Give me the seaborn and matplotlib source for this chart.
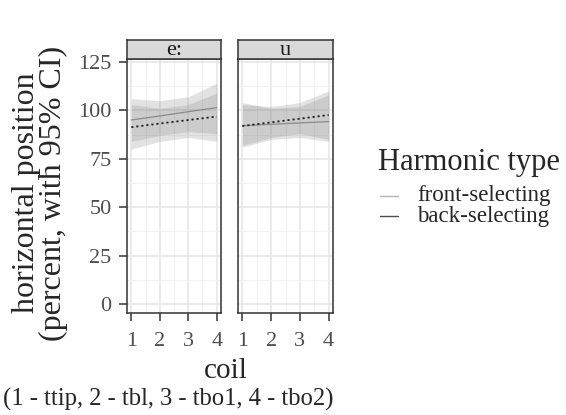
import matplotlib
matplotlib.use("Agg")
import matplotlib.pyplot as plt
import seaborn as sns
import pandas as pd
from matplotlib.lines import Line2D

# values
vowels = ["e:", "u"]
coil = [1, 2, 3, 4]

e_front_mean = [95.0, 97.1, 99.3, 101.4]
e_front_lo = [84, 87, 89, 88]
e_front_hi = [106, 105, 107, 114]
e_back_mean = [91.3, 93.2, 95.0, 96.8]
e_back_lo = [80, 84, 86, 84]
e_back_hi = [103, 101, 103, 109]

u_front_mean = [92.1, 92.8, 93.5, 94.2]
u_front_lo = [81, 85, 86, 84]
u_front_hi = [104, 101, 102, 108]
u_back_mean = [91.9, 93.8, 95.7, 97.6]
u_back_lo = [82, 86, 88, 85]
u_back_hi = [103, 102, 104, 110]

y_ticks = [0, 25, 50, 75, 100, 125]
harmonic_types = ["front-selecting", "back-selecting"]
legend_colors = ["#b3b3b3", "#4d4d4d"]

# build a long table
rows = []
series = {
    ("e:", "front-selecting"): (e_front_mean, e_front_lo, e_front_hi),
    ("e:", "back-selecting"): (e_back_mean, e_back_lo, e_back_hi),
    ("u", "front-selecting"): (u_front_mean, u_front_lo, u_front_hi),
    ("u", "back-selecting"): (u_back_mean, u_back_lo, u_back_hi),
}
for (v, h), (m, lo, hi) in series.items():
    for c, a, b, d in zip(coil, m, lo, hi):
        rows.append({"vowel": v, "type": h, "coil": c, "pos": a, "lo": b, "hi": d})
df = pd.DataFrame(rows)

sns.set_theme(style="white")
plt.rcParams["font.family"] = ["Liberation Serif", "DejaVu Serif"]

fig = plt.figure(figsize=(5.66, 4.15), dpi=100)

W, H = 566, 415
panel_x = [(127, 221), (238, 333)]
top, bottom = 59, 313
strip_top = 40

line_styles = {"front-selecting": dict(color="#8a8a8a", linestyle="-", linewidth=0.9),
               "back-selecting": dict(color="#222222", linestyle=(0, (1.2, 1.6)), linewidth=1.3)}

for i, v in enumerate(vowels):
    x0, x1 = panel_x[i]
    ax = fig.add_axes([x0 / W, 1 - bottom / H, (x1 - x0) / W, (bottom - top) / H])
    sub = df[df["vowel"] == v]
    for h in harmonic_types:
        s = sub[sub["type"] == h]
        ax.fill_between(s["coil"], s["lo"], s["hi"], color="#7f7f7f", alpha=0.22, linewidth=0, zorder=2)
    for h in harmonic_types:
        s = sub[sub["type"] == h]
        sns.lineplot(data=s, x="coil", y="pos", ax=ax, legend=False, zorder=3, **line_styles[h])

    ax.set_xlim(0.85, 4.15)
    ax.set_ylim(-4.6, 126.5)
    ax.set_xticks(coil)
    ax.set_xticks([1.5, 2.5, 3.5], minor=True)
    ax.set_yticks(y_ticks)
    ax.set_yticks([12.5, 37.5, 62.5, 87.5, 112.5], minor=True)
    ax.grid(True, which="major", color="#e6e6e6", linewidth=1.1, zorder=0)
    ax.grid(True, which="minor", color="#efefef", linewidth=0.6, zorder=0)
    ax.set_axisbelow(True)
    for sp in ax.spines.values():
        sp.set_color("#333333")
        sp.set_linewidth(1.1)
    ax.tick_params(axis="both", which="major", length=6, width=1.1, color="#333333",
                   labelsize=16, labelcolor="#4d4d4d", bottom=True, left=(i == 0))
    ax.tick_params(axis="x", which="major", pad=8)
    ax.tick_params(axis="y", which="major", pad=5)
    ax.tick_params(axis="both", which="minor", length=0)
    ax.set_xlabel("")
    ax.set_ylabel("")
    if i > 0:
        ax.set_yticklabels([])

    # facet strip
    sax = fig.add_axes([x0 / W, 1 - top / H, (x1 - x0) / W, (top - strip_top) / H])
    sax.set_facecolor("#d9d9d9")
    sax.set_xticks([])
    sax.set_yticks([])
    for sp in sax.spines.values():
        sp.set_color("#333333")
        sp.set_linewidth(1.1)
    sax.text(0.5, 0.45, v, ha="center", va="center", fontsize=16, color="#1a1a1a", transform=sax.transAxes)

fig.text(40 / W, 1 - 193 / H, "horizontal position\n(percent, with 95% CI)", rotation=90,
         ha="center", va="center", multialignment="center", fontsize=23, linespacing=0.95)
fig.text(226 / W, 1 - 371 / H, "coil", ha="center", va="center", fontsize=21)
fig.text(3 / W, 1 - 399 / H, "(1 - ttip, 2 - tbl, 3 - tbo1, 4 - tbo2)", ha="left", va="center", fontsize=17.7)

# legend, laid out like the ggplot guide
fig.text(378 / W, 1 - 162 / H, "Harmonic type", ha="left", va="center", fontsize=22)
for k, (lab, col) in enumerate(zip(harmonic_types, legend_colors)):
    yy = 1 - (196 + 20 * k) / H
    fig.add_artist(Line2D([380 / W, 398 / W], [yy, yy], color=col, linewidth=1.0,
                          transform=fig.transFigure))
    fig.text(417 / W, yy, lab, ha="left", va="center", fontsize=16.5)

fig.savefig("out.png", dpi=100)
